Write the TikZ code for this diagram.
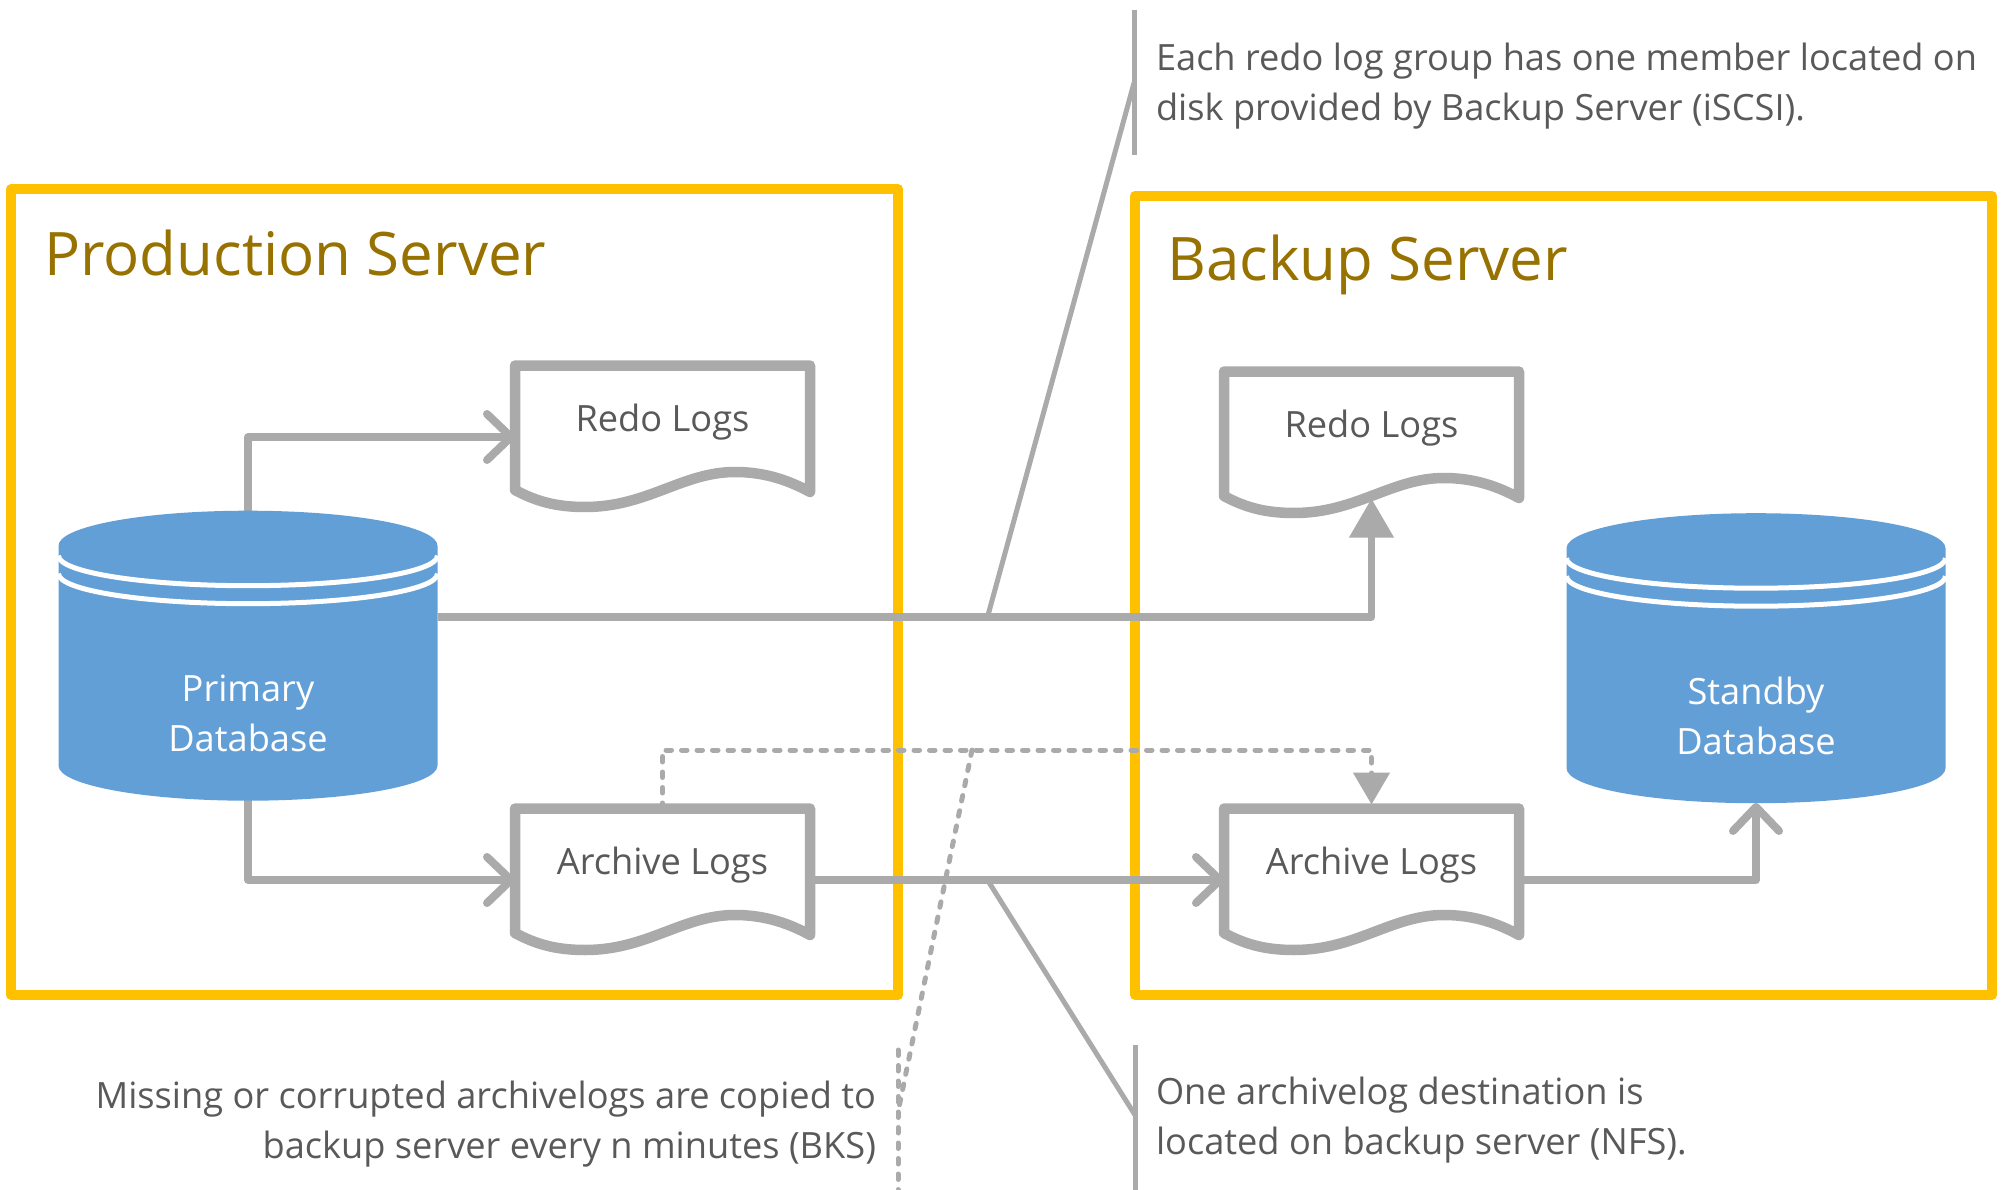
\documentclass[tikz,border=0pt]{standalone}
\usepackage{fontspec}
\setmainfont{Open Sans}
\usetikzlibrary{arrows.meta,calc}
\definecolor{yel}{HTML}{FFC000}
\definecolor{gry}{HTML}{AAAAAA}
\definecolor{blu}{HTML}{629FD6}
\definecolor{txt}{HTML}{595959}
\definecolor{ttl}{HTML}{977200}
\tikzset{
 x=1pt,y=-1pt,
 serverbox/.style={draw=yel,line width=10pt,line join=round,outer sep=0pt,inner sep=0pt},
 anchorbox/.style={inner sep=0pt,outer sep=0pt,draw=none},
 conn/.style={draw=gry,line width=7.5pt,line join=round},
 dots/.style={draw=gry,line width=5pt,line cap=round,dash pattern=on 5.5pt off 10pt},
 lead/.style={draw=gry,line width=5pt},
 openhead/.style={-{Straight Barb[length=24pt,width=46pt,line width=8pt,round]}},
 solidhead/.style={-{Triangle[length=39pt,width=43pt]}},
 dothead/.style={-{Triangle[length=32pt,width=36pt]}},
 docline/.style={draw=gry,fill=white,line width=10.5pt,line join=round},
 body/.style={text=txt,font=\fontsize{36.2}{50.5}\selectfont,inner sep=0pt,outer sep=0pt},
 doclabel/.style={text=txt,font=\fontsize{36.2}{50}\selectfont,inner sep=0pt},
 dblabel/.style={text=white,font=\fontsize{36.2}{50}\selectfont,inner sep=0pt,align=center},
 titlelabel/.style={text=ttl,font=\fontsize{60}{70}\selectfont,inner sep=0pt,anchor=west},
}
\newcommand{\docshape}[1]{%
 \path[docline,shift={(#1.center)}] (-147.5,-71.5) -- (147.5,-71.5) -- (147.5,55)
  .. controls (122,41) and (98,35) .. (72.5,35)
  .. controls (20,35) and (-15,70) .. (-77.5,70)
  .. controls (-107,70) and (-127,64) .. (-147.5,53) -- cycle;}
\newcommand{\cylshape}[1]{%
 \begin{scope}[shift={(#1.center)}]
  \fill[blu] (-189.5,-110) arc[start angle=180,end angle=0,x radius=189.5pt,y radius=35pt]
    -- (189.5,110) arc[start angle=0,end angle=-180,x radius=189.5pt,y radius=35pt] -- cycle;
  \draw[white,line width=5pt] (-189.5,-100) arc[start angle=180,end angle=360,x radius=189.5pt,y radius=30pt];
  \draw[white,line width=5pt] (-189.5,-82) arc[start angle=180,end angle=360,x radius=189.5pt,y radius=30pt];
 \end{scope}}
\begin{document}
\begin{tikzpicture}
\useasboundingbox (0,0) rectangle (2003,1190);
% anchors of the shapes
\node[anchorbox,minimum width=379pt,minimum height=289.5pt] (cylA) at (248,655.7) {};
\node[anchorbox,minimum width=379pt,minimum height=289.5pt] (cylB) at (1756,658.2) {};
\node[anchorbox,minimum width=295pt,minimum height=143pt] (redoA) at (662.5,437) {};
\node[anchorbox,minimum width=295pt,minimum height=143pt] (archA) at (662.5,880) {};
\node[anchorbox,minimum width=295pt,minimum height=143pt] (redoB) at (1371.5,443) {};
\node[anchorbox,minimum width=295pt,minimum height=143pt] (archB) at (1371.5,880) {};
% server frames
\node[serverbox,anchor=north west,minimum width=887pt,minimum height=806pt] (prod) at (11,189) {};
\node[serverbox,anchor=north west,minimum width=857pt,minimum height=799pt] (back) at (1135,196) {};
% junctions and callout lines
\coordinate (jredo) at (987.5,617);
\coordinate (jarch) at (987.5,880);
\coordinate (jdots) at (972,750);
\coordinate (bracketAtop) at (1134,10);
\coordinate (bracketAbot) at (1134,155);
\coordinate (bracketAmid) at (1134,83);
\coordinate (bracketBtop) at (1135,1045);
\coordinate (bracketBbot) at (1135,1190);
\coordinate (bracketBmid) at (1135,1115);
\coordinate (bracketCtop) at (898,1050);
\coordinate (bracketCbot) at (898,1190);
\coordinate (bracketCmid) at (898,1112);
\draw[lead] (bracketAtop) -- (bracketAbot);
\draw[lead] (jredo) -- (bracketAmid);
\draw[lead] (bracketBtop) -- (bracketBbot);
\draw[lead] (jarch) -- (bracketBmid);
\draw[dots] (bracketCtop) -- (bracketCbot);
\draw[dots] (jdots) -- (bracketCmid);
% connectors
\draw[conn,openhead] (cylA.north) |- (redoA.west);
\draw[conn,openhead] (cylA.south) |- (archA.west);
\draw[conn,solidhead] ([yshift=38.7pt]cylA.east) -| ([yshift=16pt]redoB.south);
\draw[conn,openhead] (archA.east) -- (archB.west);
\draw[conn,openhead] (archB.east) -| (cylB.south);
\draw[dots,dothead] (archA.north) |- (jdots) -| ([yshift=4pt]archB.north);
% shapes
\docshape{redoA}\docshape{archA}\docshape{redoB}\docshape{archB}
\cylshape{cylA}\cylshape{cylB}
% labels
\node[doclabel] (redoAt) at (662.5,422) {Redo Logs};
\node[doclabel] (archAt) at (662.5,865) {Archive Logs};
\node[doclabel] (redoBt) at (1371.5,428) {Redo Logs};
\node[doclabel] (archBt) at (1371.5,865) {Archive Logs};
\node[dblabel] (cylAt) at (248,713) {Primary\\Database};
\node[dblabel] (cylBt) at (1756,715.5) {Standby\\Database};
\node[titlelabel] (prodt) at (44,253) {Production Server};
\node[titlelabel] (backt) at (1167,265) {Backup Server};
\node[body,anchor=west,align=left] (noteA) at (1156,86) {Each redo log group has one member located on\\disk provided by Backup Server (iSCSI).};
\node[body,anchor=west,align=left] (noteB) at (1156,1120) {One archivelog destination is\\located on backup server (NFS).};
\node[body,anchor=east,align=right] (noteC) at (876,1124) {Missing or corrupted archivelogs are copied to\\backup server every n minutes (BKS)};
\end{tikzpicture}
\end{document}
